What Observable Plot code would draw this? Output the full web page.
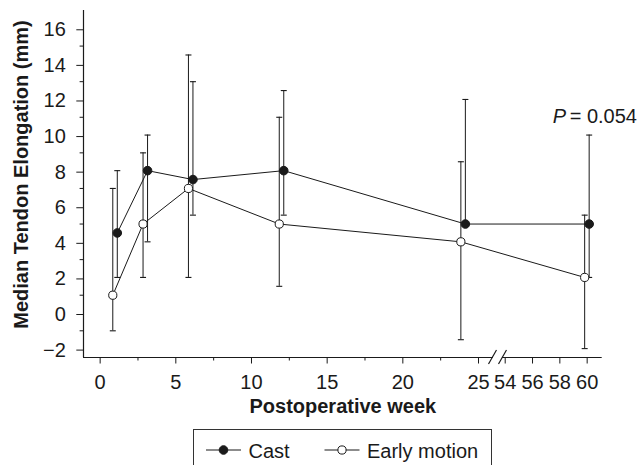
<!DOCTYPE html>
<html><head><meta charset="utf-8">
<script src="https://cdn.jsdelivr.net/npm/d3@7"></script>
<script src="https://cdn.jsdelivr.net/npm/@observablehq/plot@0.6"></script>
<style>
body{margin:0;background:#fff;font-family:"Liberation Sans",Arial,Helvetica,sans-serif;}
#wrap{position:relative;width:639px;height:465px;overflow:hidden;background:#fff;}
#legend{position:absolute;left:193px;top:429px;width:299px;height:46px;box-sizing:border-box;border:1.3px solid #333;}
</style></head><body><div id="wrap"><div id="chart"></div><div id="legend"></div></div>
<script>
// ---- data ----
const seriesNames = ["Cast", "Early motion"];
const weeks = [1, 3, 6, 12, 24, 60];
const castMedian = [4.5, 8, 7.5, 8, 5, 5];
const castLow = [2, 4, 5.5, 5.5, 5, 2];
const castHigh = [8, 10, 13, 12.5, 12, 10];
const earlyMedian = [1, 5, 7, 5, 4, 2];
const earlyLow = [-1, 2, 2, 1.5, -1.5, -2];
const earlyHigh = [7, 9, 14.5, 11, 8.5, 5.5];
const xTicks = [0, 5, 10, 15, 20, 25, 54, 56, 58, 60];
const xMinorTicks = [2.5, 7.5, 12.5, 17.5, 22.5];
const yTicks = [-2, 0, 2, 4, 6, 8, 10, 12, 14, 16];
const yMinorTicks = [-1, 1, 3, 5, 7, 9, 11, 13, 15];
const xTitle = "Postoperative week";
const yTitle = "Median Tendon Elongation (mm)";
const pLetter = "P";
const pValue = "= 0.054";

const medians = [castMedian, earlyMedian], lows = [castLow, earlyLow], highs = [castHigh, earlyHigh];
const rows = seriesNames.flatMap((s, k) => weeks.map((w, i) => ({series: s, week: w, median: medians[k][i], low: lows[k][i], high: highs[k][i]})));
const cast = rows.filter(d => d.series === "Cast");
const early = rows.filter(d => d.series === "Early motion");
const last = cast[cast.length - 1];

const ink = "#1a1a1a";
const cap = {draw(ctx, size) { const r = Math.sqrt(size / Math.PI); ctx.moveTo(-r, 0); ctx.lineTo(r, 0); }};

function breakMark(index, scales, values, dimensions) {
  const x = scales.x;
  const y0 = dimensions.height - dimensions.marginBottom;
  const xb = x(25) + 0.73 * (x(54) - x(25));
  const g = d3.create("svg:g");
  g.append("rect").attr("x", xb - 4.5).attr("y", y0 - 2).attr("width", 9).attr("height", 4).attr("fill", "white");
  for (const off of [-5, 5]) {
    g.append("line").attr("x1", xb + off - 4).attr("y1", y0 + 7).attr("x2", xb + off + 4).attr("y2", y0 - 7)
      .attr("stroke", ink).attr("stroke-width", 1.2);
  }
  return g.node();
}

function series(data, dx) {
  return [
    Plot.ruleX(data, {x: "week", y1: "low", y2: "high", stroke: ink, strokeWidth: 1, dx}),
    Plot.dot(data, {x: "week", y: "high", symbol: cap, r: 3, fill: "none", stroke: ink, strokeWidth: 1.1, dx}),
    Plot.dot(data, {x: "week", y: "low", symbol: cap, r: 3, fill: "none", stroke: ink, strokeWidth: 1.1, dx})
  ];
}

const chart = Plot.plot({
  width: 639,
  height: 420,
  marginLeft: 83,
  marginRight: 37.3,
  marginTop: 10,
  marginBottom: 63,
  style: {fontFamily: "'Liberation Sans', Arial, sans-serif", fontSize: "20px", color: ink, background: "white", overflow: "visible"},
  x: {type: "linear", domain: [-1.1, 25, 54, 61.1], range: [83, 478, 504.7, 601.7]},
  y: {domain: [-2.5, 17]},
  marks: [
    Plot.ruleY([-2.5], {stroke: ink, strokeWidth: 1.2}),
    Plot.ruleX([-1.1], {stroke: ink, strokeWidth: 1.2}),
    Plot.axisX({ticks: xTicks, tickSize: 6.5, tickPadding: 10.5, tickFormat: d => String(d), label: null, stroke: ink, fill: ink}),
    Plot.axisX({ticks: xMinorTicks, tickSize: 3.5, text: null, label: null, stroke: ink}),
    Plot.axisY({ticks: yTicks, tickSize: 6.7, tickPadding: 11, dy: 1.5, tickFormat: d => (d < 0 ? "\u2212" + Math.abs(d) : String(d)), label: null, stroke: ink, fill: ink}),
    Plot.axisY({ticks: yMinorTicks, tickSize: 3.4, text: null, label: null, stroke: ink}),
    breakMark,
    Plot.line(cast, {x: "week", y: "median", stroke: ink, strokeWidth: 1, dx: 2}),
    Plot.line(early, {x: "week", y: "median", stroke: ink, strokeWidth: 1, dx: -2.5}),
    ...series(cast, 2),
    ...series(early, -2.5),
    Plot.dot(cast, {x: "week", y: "median", r: 4.3, fill: ink, stroke: ink, strokeWidth: 1, dx: 2}),
    Plot.dot(early, {x: "week", y: "median", r: 4.1, fill: "white", stroke: ink, strokeWidth: 1, dx: -2.5}),
    Plot.text([pLetter], {x: last.week, y: last.high, text: d => d, fontStyle: "italic", textAnchor: "end", lineAnchor: "top", dx: -21, dy: -25.8, fill: ink}),
    Plot.text([pValue], {x: last.week, y: last.high, text: d => d, textAnchor: "start", lineAnchor: "top", dx: -17.5, dy: -25.8, fill: ink}),
    Plot.text([xTitle], {frameAnchor: "bottom", text: d => d, fontWeight: "bold", textAnchor: "middle", lineAnchor: "top", dy: 41.5, fill: ink}),
    Plot.text([yTitle], {frameAnchor: "left", text: d => d, fontWeight: "bold", rotate: -90, textAnchor: "middle", lineAnchor: "top", dx: -70, dy: -9.5, fill: ink})
  ]
});
document.getElementById("chart").appendChild(chart);

// ---- legend (below the chart) ----
const legend = d3.select("#legend").append("svg").attr("width", 297).attr("height", 44).style("display", "block");
const itemX = [12, 130.5];
seriesNames.forEach((name, k) => {
  const g = legend.append("g").attr("transform", `translate(${itemX[k]},20)`);
  g.append("line").attr("x1", 0).attr("x2", 35).attr("stroke", ink).attr("stroke-width", 1.1);
  g.append("circle").attr("cx", 17.5).attr("r", k === 0 ? 4.3 : 4.1).attr("fill", k === 0 ? ink : "white").attr("stroke", ink);
  g.append("text").attr("x", 42.5).attr("y", 8.3).attr("fill", ink)
    .style("font-family", "'Liberation Sans', Arial, sans-serif").style("font-size", "20px").text(name);
});
</script>
</body></html>
